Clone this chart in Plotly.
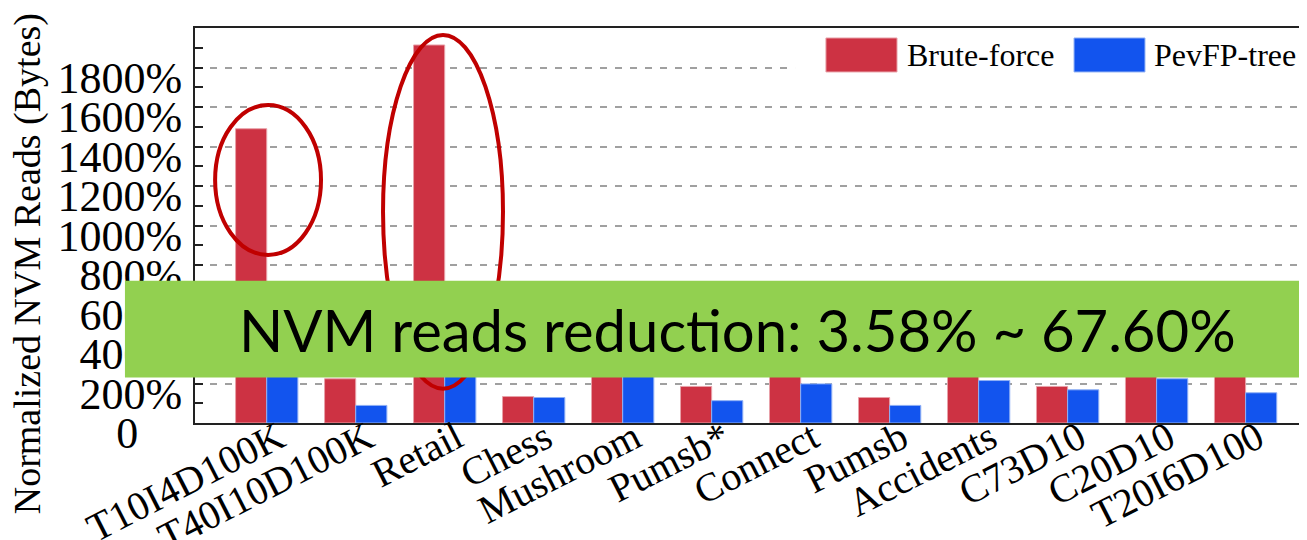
import plotly.graph_objects as go

categories = ["T10I4D100K", "T40I10D100K", "Retail", "Chess", "Mushroom", "Pumsb*",
              "Connect", "Pumsb", "Accidents", "C73D10", "C20D10", "T20I6D100"]
brute_force = [1490, 224, 1914, 134, 450, 185, 380, 129, 420, 185, 400, 300]
pevfp_tree = [480, 89, 640, 129, 330, 113, 198, 89, 215, 168, 224, 153]
series_names = ["Brute-force", "PevFP-tree"]
series_colors = ["#CD3243", "#1254EE"]
y_tickvals = [0, 200, 400, 600, 800, 1000, 1200, 1400, 1600, 1800]
y_ticktext = ["0\u00a0\u00a0\u00a0\u00a0", "200%", "400%", "600%", "800%", "1000%",
              "1200%", "1400%", "1600%", "1800%"]
y_minorvals = [100, 300, 500, 700, 900, 1100, 1300, 1500, 1700, 1900]
y_title = "Normalized NVM Reads (Bytes)"
banner_text = "NVM reads reduction: 3.58% ~ 67.60%"

serif = "Liberation Serif"

fig = go.Figure()
fig.add_trace(go.Bar(x=list(range(len(categories))), y=brute_force, name=series_names[0],
                     marker=dict(color=series_colors[0], line=dict(color="#E8A0A8", width=1))))
fig.add_trace(go.Bar(x=list(range(len(categories))), y=pevfp_tree, name=series_names[1],
                     marker=dict(color=series_colors[1], line=dict(color="#8FB0F5", width=1))))

# page body has an 8px margin, so the figure is 8px smaller on each axis
fig.update_layout(
    width=1299, height=532,
    margin=dict(l=187, r=0, t=20, b=116.7, autoexpand=False),
    plot_bgcolor="white", paper_bgcolor="white",
    barmode="group", bargap=0.30, bargroupgap=0,
    showlegend=False,
    font=dict(family=serif, color="black"),
)

fig.update_xaxes(
    range=[-0.806, 11.69], automargin=False,
    tickmode="array", tickvals=list(range(len(categories))), ticktext=categories,
    tickangle=-27, tickfont=dict(family=serif, size=40, color="black"),
    ticklabelstandoff=-26, ticklabelshift=12,
    showline=True, linecolor="#222", linewidth=2, mirror=True,
    ticks="", showgrid=False, zeroline=False,
)
fig.update_yaxes(
    range=[0, 2000], automargin=False,
    tickmode="array", tickvals=y_tickvals, ticktext=y_ticktext,
    tickfont=dict(family=serif, size=44, color="black"),
    ticks="inside", ticklen=8, tickwidth=1.5, tickcolor="#222",
    ticklabelshift=10, ticklabelstandoff=2,
    minor=dict(tickmode="array", tickvals=y_minorvals, ticks="inside", ticklen=8,
               tickwidth=1.5, tickcolor="#222", showgrid=False),
    showgrid=True, gridcolor="#A0A0A0", gridwidth=1.5, griddash="7px,8px",
    showline=True, linecolor="#222", linewidth=2, mirror=False,
    zeroline=False,
)

shapes = []
# highlight ellipses (behind banner)
shapes.append(dict(type="circle", xref="x", yref="y", x0=-0.58, x1=0.61, y0=851, y1=1610,
                   line=dict(color="#C00000", width=4), layer="above"))
shapes.append(dict(type="circle", xref="x", yref="y", x0=1.307, x1=2.655, y0=174, y1=1965,
                   line=dict(color="#C00000", width=4), layer="above"))
# legend background
shapes.append(dict(type="rect", xref="paper", yref="paper", x0=0.5396, x1=1.0, y0=0.8535, y1=0.994,
                   fillcolor="white", line=dict(width=0), layer="above"))
# legend swatches
shapes.append(dict(type="rect", xref="paper", yref="paper", x0=0.5674, x1=0.6313, y0=0.8887, y1=0.9747,
                   fillcolor=series_colors[0], line=dict(color="#E8A0A8", width=1), layer="above"))
shapes.append(dict(type="rect", xref="paper", yref="paper", x0=0.7905, x1=0.8543, y0=0.8887, y1=0.9747,
                   fillcolor=series_colors[1], line=dict(color="#8FB0F5", width=1), layer="above"))
# green banner
shapes.append(dict(type="rect", xref="paper", yref="paper", x0=-0.063, x1=1.01, y0=0.1154, y1=0.36,
                   fillcolor="#92D050", line=dict(width=0), layer="above"))
fig.update_layout(shapes=shapes)

annotations = [
    dict(text=series_names[0], xref="paper", yref="paper", x=0.6385, y=0.9317,
         xanchor="left", yanchor="middle", showarrow=False,
         font=dict(family=serif, size=32, color="black")),
    dict(text=series_names[1], xref="paper", yref="paper", x=0.8606, y=0.9317,
         xanchor="left", yanchor="middle", showarrow=False,
         font=dict(family=serif, size=32, color="black")),
    dict(text=y_title, xref="paper", yref="paper", x=-0.151, y=0.402,
         xanchor="center", yanchor="middle", textangle=-90, showarrow=False,
         font=dict(family=serif, size=38, color="black")),
    dict(text=banner_text, xref="paper", yref="paper", x=0.0378, y=0.236,
         xanchor="left", yanchor="middle", showarrow=False,
         font=dict(family="Lato", size=58, color="black")),
]
fig.update_layout(annotations=annotations)

fig.write_html("out.html")
